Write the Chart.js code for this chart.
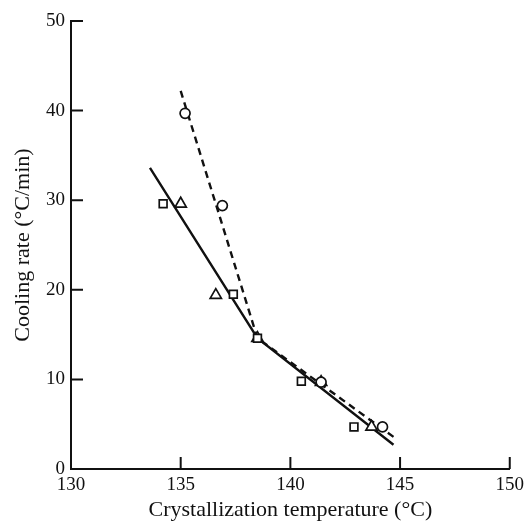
<!DOCTYPE html>
<html>
<head>
<meta charset="utf-8">
<script src="https://cdn.jsdelivr.net/npm/chart.js@4/dist/chart.umd.min.js"></script>
<style>
  html, body { margin: 0; padding: 0; background: #fff; }
  #wrap { width: 529px; height: 523px; }
</style>
</head>
<body>
<div id="wrap"><canvas id="c" width="529" height="523"></canvas></div>
<script>
const xTicks = [130, 135, 140, 145, 150];
const yTicks = [0, 10, 20, 30, 40, 50];

// fitted lines
const solidX = [133.6, 138.5, 144.7];
const solidY = [33.6, 14.6, 2.7];
const dashX = [135.0, 138.5, 144.75];
const dashY = [42.2, 14.6, 3.5];

// measured points
const circleX = [135.2, 136.9, 141.4, 144.2];
const circleY = [39.7, 29.4, 9.7, 4.7];
const squareX = [134.2, 137.4, 138.5, 140.5, 142.9];
const squareY = [29.6, 19.5, 14.6, 9.8, 4.7];
const triX = [135.0, 136.6, 138.5, 141.4, 143.7];
const triY = [29.6, 19.4, 14.6, 9.7, 4.7];

const INK = '#111';
const pts = (xs, ys) => xs.map((x, i) => ({ x, y: ys[i] }));

const markerSet = (label, xs, ys, style, radius) => ({
  label,
  data: pts(xs, ys),
  showLine: false,
  pointStyle: style,
  pointRadius: radius,
  pointBorderWidth: 1.7,
  pointBorderColor: INK,
  pointBackgroundColor: '#fff',
  order: 0
});

const lineSet = (label, xs, ys, dash) => ({
  label,
  data: pts(xs, ys),
  showLine: true,
  borderColor: INK,
  borderWidth: 2.4,
  borderDash: dash,
  pointRadius: 0,
  fill: false,
  order: 5
});

// inward tick marks drawn from the scales
const inwardTicks = {
  id: 'inwardTicks',
  afterDatasetsDraw(chart) {
    const { ctx, scales, chartArea } = chart;
    ctx.save();
    ctx.strokeStyle = INK;
    ctx.lineWidth = 2;
    ctx.beginPath();
    xTicks.forEach((v) => {
      const px = scales.x.getPixelForValue(v);
      ctx.moveTo(px, chartArea.bottom);
      ctx.lineTo(px, chartArea.bottom - 12);
    });
    yTicks.forEach((v) => {
      const py = scales.y.getPixelForValue(v);
      ctx.moveTo(chartArea.left, py);
      ctx.lineTo(chartArea.left + 12, py);
    });
    ctx.stroke();
    ctx.restore();
  }
};

const serif = '"Liberation Serif", "DejaVu Serif", serif';
const tickFont = { family: serif, size: 19, weight: 'normal' };
const titleFont = { family: serif, size: 22, weight: 'normal' };

new Chart(document.getElementById('c'), {
  type: 'scatter',
  data: {
    datasets: [
      markerSet('circles', circleX, circleY, 'circle', 5),
      markerSet('squares', squareX, squareY, 'rect', 5.5),
      markerSet('triangles', triX, triY, 'triangle', 6.5),
      lineSet('solid', solidX, solidY, []),
      lineSet('dashed', dashX, dashY, [7, 5])
    ]
  },
  options: {
    responsive: false,
    animation: false,
    layout: { padding: { top: 21, right: 15, left: 0, bottom: 0 } },
    plugins: {
      legend: { display: false },
      tooltip: { enabled: false }
    },
    scales: {
      x: {
        type: 'linear',
        min: 130,
        max: 150,
        afterFit: (s) => { s.height = 54; },
        afterBuildTicks: (s) => { s.ticks = xTicks.map((v) => ({ value: v })); },
        border: { display: true, color: INK, width: 2 },
        grid: { display: false, drawTicks: false },
        ticks: { color: INK, font: tickFont, padding: 5, maxRotation: 0 },
        title: {
          display: true,
          text: 'Crystallization temperature (°C)',
          color: INK,
          font: titleFont,
          padding: { top: 0, bottom: 0 }
        }
      },
      y: {
        type: 'linear',
        min: 0,
        max: 50,
        afterFit: (s) => { s.width = 71; },
        afterBuildTicks: (s) => { s.ticks = yTicks.map((v) => ({ value: v })); },
        border: { display: true, color: INK, width: 2 },
        grid: { display: false, drawTicks: false },
        ticks: { color: INK, font: tickFont, padding: 6 },
        title: {
          display: true,
          text: 'Cooling rate (°C/min)',
          color: INK,
          font: titleFont,
          padding: { top: 10, bottom: 0 }
        }
      }
    }
  },
  plugins: [inwardTicks]
});
</script>
</body>
</html>
